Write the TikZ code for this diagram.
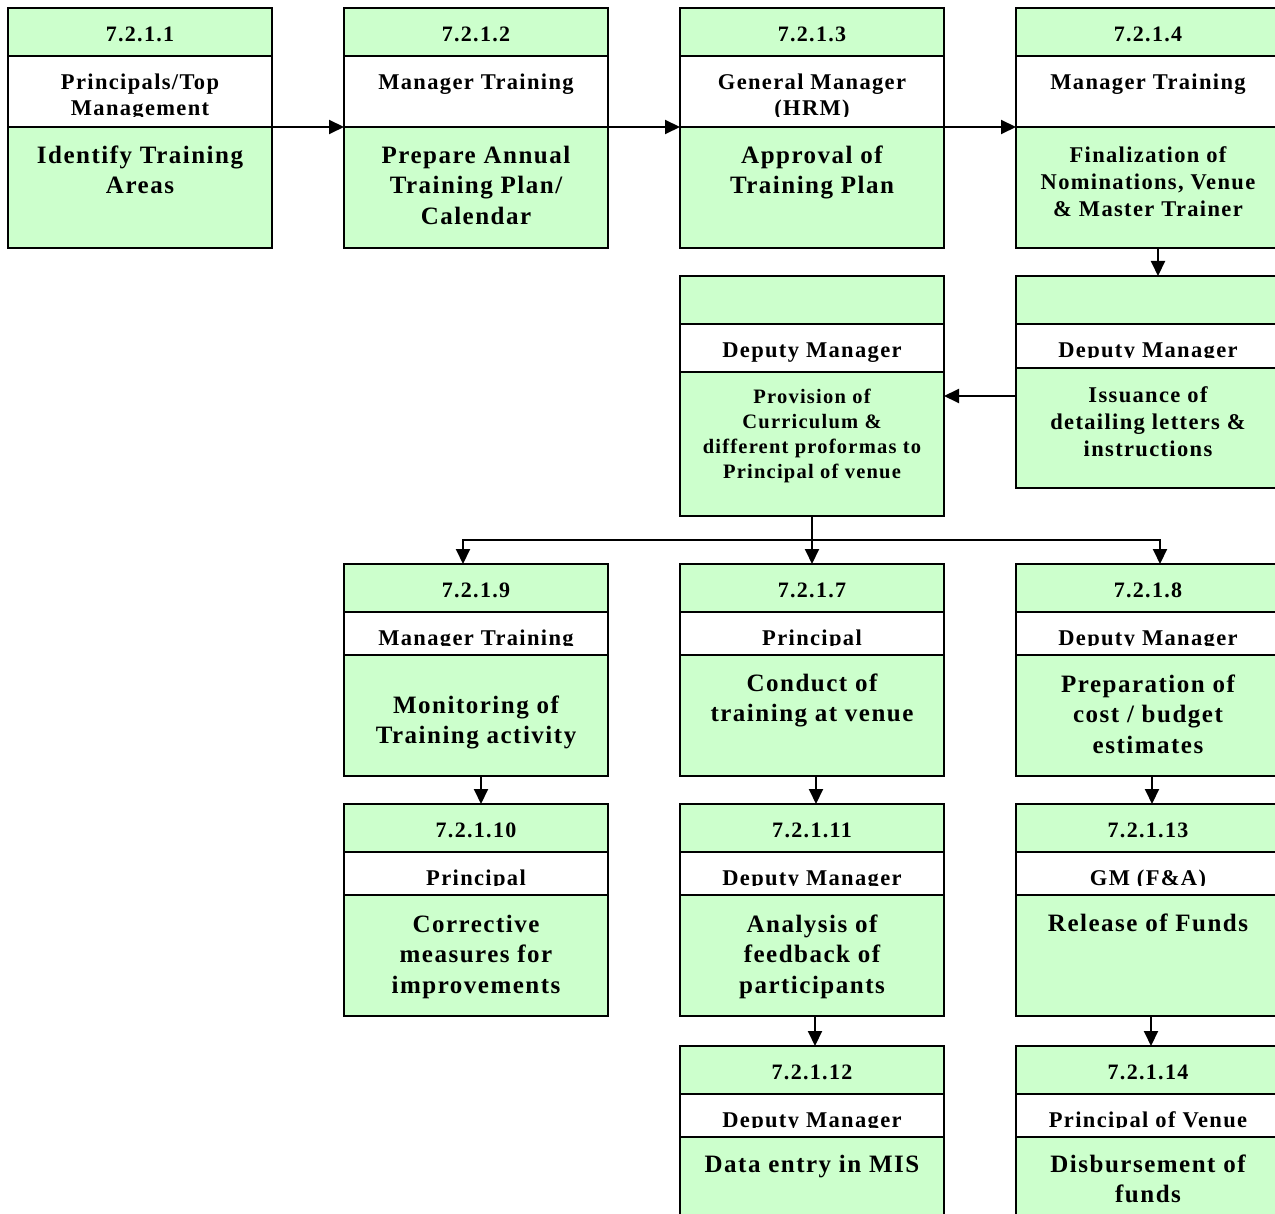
\documentclass[tikz,border=0pt]{standalone}
\usepackage{fontspec}
\setmainfont{Liberation Serif}[LetterSpace=6]
\usetikzlibrary{arrows.meta}
\definecolor{boxgreen}{HTML}{CCFFCC}
% fixes the height of the first line so that north anchors are predictable
\newcommand\lineTop{\rule{0pt}{.75em}}
\tikzset{
  cell/.style={draw, line width=2pt, rectangle, inner sep=0pt, outer sep=0pt, minimum width=264pt},
  numtext/.style={anchor=base, inner sep=0pt, font=\fontsize{22}{26}\selectfont\bfseries},
  roletext/.style={anchor=north, inner sep=0pt, align=center, font=\fontsize{22.5}{26}\selectfont\bfseries},
  bodytext/.style={anchor=north, inner sep=0pt, align=center, font=\fontsize{25}{30.5}\selectfont\bfseries},
  midbody/.style={font=\fontsize{22.5}{27}\selectfont\bfseries},
  smallbody/.style={font=\fontsize{20.5}{25}\selectfont\bfseries},
  link/.style={line width=2pt, -{Triangle[length=15pt,width=14pt]}},
}
% one process box: #1 name, #2 centre x, #3 top, #4 header bottom,
% #5 role bottom, #6 bottom, #7 number, #8 responsible role
\newcommand\procbox[8]{%
  \node[cell, fill=boxgreen, minimum height={(#4-(#3))*1pt}] (#1h) at (#2,{(#3+#4)/2}) {};
  \node[numtext] (#1n) at ([yshift=14.5pt]#1h.south) {#7};
  \node[cell, fill=white, minimum height={(#5-(#4))*1pt}] (#1r) at (#2,{(#4+#5)/2}) {};
  \node[cell, fill=boxgreen, minimum height={(#6-(#5))*1pt}] (#1b) at (#2,{(#5+#6)/2}) {};
  \begin{scope}
    \clip (#1r.north west) rectangle ([yshift=10pt]#1r.south east);
    \node[roletext] (#1t) at ([yshift=-16.1pt]#1r.north) {\lineTop #8};
  \end{scope}
}
\begin{document}
\begin{tikzpicture}[x=1pt,y=-1pt]
\useasboundingbox (0,0) rectangle (1275,1214);
\clip (0,0) rectangle (1275,1214);
\fill[white] (0,0) rectangle (1275,1214);

% first row
\procbox{A}{140}{8}{56}{127}{248}{7.2.1.1}{Principals/Top\\Management}
\procbox{B}{476}{8}{56}{127}{248}{7.2.1.2}{Manager Training}
\procbox{C}{812}{8}{56}{127}{248}{7.2.1.3}{General Manager\\(HRM)}
\procbox{D}{1148}{8}{56}{127}{248}{7.2.1.4}{Manager Training}
% second row
\procbox{E}{812}{276}{324}{372}{516}{}{Deputy Manager}
\procbox{F}{1148}{276}{324}{368}{488}{}{Deputy Manager}
% third row
\procbox{G}{476}{564}{612}{655}{776}{7.2.1.9}{Manager Training}
\procbox{H}{812}{564}{612}{655}{776}{7.2.1.7}{Principal}
\procbox{I}{1148}{564}{612}{655}{776}{7.2.1.8}{Deputy Manager}
% fourth row
\procbox{J}{476}{804}{852}{895}{1016}{7.2.1.10}{Principal}
\procbox{K}{812}{804}{852}{895}{1016}{7.2.1.11}{Deputy Manager}
\procbox{L}{1148}{804}{852}{895}{1016}{7.2.1.13}{GM (F\&A)}
% fifth row
\procbox{M}{812}{1046}{1094}{1137}{1240}{7.2.1.12}{Deputy Manager}
\procbox{N}{1148}{1046}{1094}{1137}{1240}{7.2.1.14}{Principal of Venue}

% activity texts
\node[bodytext] (Ax) at ([yshift=-17.25pt]Ab.north) {\lineTop Identify Training\\Areas};
\node[bodytext] (Bx) at ([yshift=-17.25pt]Bb.north) {\lineTop Prepare Annual\\Training Plan/\\Calendar};
\node[bodytext] (Cx) at ([yshift=-17.25pt]Cb.north) {\lineTop Approval of\\Training Plan};
\node[bodytext, midbody] (Dx) at ([yshift=-18.1pt]Db.north) {\lineTop Finalization of\\Nominations, Venue\\\& Master Trainer};
\node[bodytext, smallbody] (Ex) at ([yshift=-15.6pt]Eb.north) {\lineTop Provision of\\Curriculum \&\\different proformas to\\Principal of venue};
\node[bodytext, midbody] (Fx) at ([yshift=-17.1pt]Fb.north) {\lineTop Issuance of\\detailing letters \&\\instructions};
\node[bodytext] (Gx) at ([yshift=-39.25pt]Gb.north) {\lineTop Monitoring of\\Training activity};
\node[bodytext] (Hx) at ([yshift=-17.25pt]Hb.north) {\lineTop Conduct of\\training at venue};
\node[bodytext] (Ix) at ([yshift=-18.25pt]Ib.north) {\lineTop Preparation of\\cost / budget\\estimates};
\node[bodytext] (Jx) at ([yshift=-18.25pt]Jb.north) {\lineTop Corrective\\measures for\\improvements};
\node[bodytext] (Kx) at ([yshift=-18.25pt]Kb.north) {\lineTop Analysis of\\feedback of\\participants};
\node[bodytext] (Lx) at ([yshift=-17.25pt]Lb.north) {\lineTop Release of Funds};
\node[bodytext] (Mx) at ([yshift=-16.5pt]Mb.north) {\lineTop Data entry in MIS};
\node[bodytext] (Nx) at ([yshift=-16.5pt]Nb.north) {\lineTop Disbursement of\\funds};

% flow along the first row
\draw[link] (Ab.north east) -- (Bb.north west);
\draw[link] (Bb.north east) -- (Cb.north west);
\draw[link] (Cb.north east) -- (Db.north west);
% down to the letters, then back to the curriculum
\draw[link] ([xshift=10pt]Db.south) -- ([xshift=10pt]Fh.north);
\coordinate (Ftap) at ([yshift=-28pt]Fb.north west);
\draw[link] (Ftap) -- (Ftap -| Eb.east);
% fan-out to the three parallel activities
\coordinate (fork) at ([yshift=-24pt]Eb.south);
\draw[link] (Eb.south) -- (Hh.north);
\draw[link] (fork) -| ([xshift=-13pt]Gh.north);
\draw[link] (fork) -| ([xshift=12pt]Ih.north);
% vertical chains
\draw[link] ([xshift=5pt]Gb.south) -- ([xshift=5pt]Jh.north);
\draw[link] ([xshift=4pt]Hb.south) -- ([xshift=4pt]Kh.north);
\draw[link] ([xshift=4pt]Ib.south) -- ([xshift=4pt]Lh.north);
\draw[link] ([xshift=3pt]Kb.south) -- ([xshift=3pt]Mh.north);
\draw[link] ([xshift=3pt]Lb.south) -- ([xshift=3pt]Nh.north);
\end{tikzpicture}
\end{document}
